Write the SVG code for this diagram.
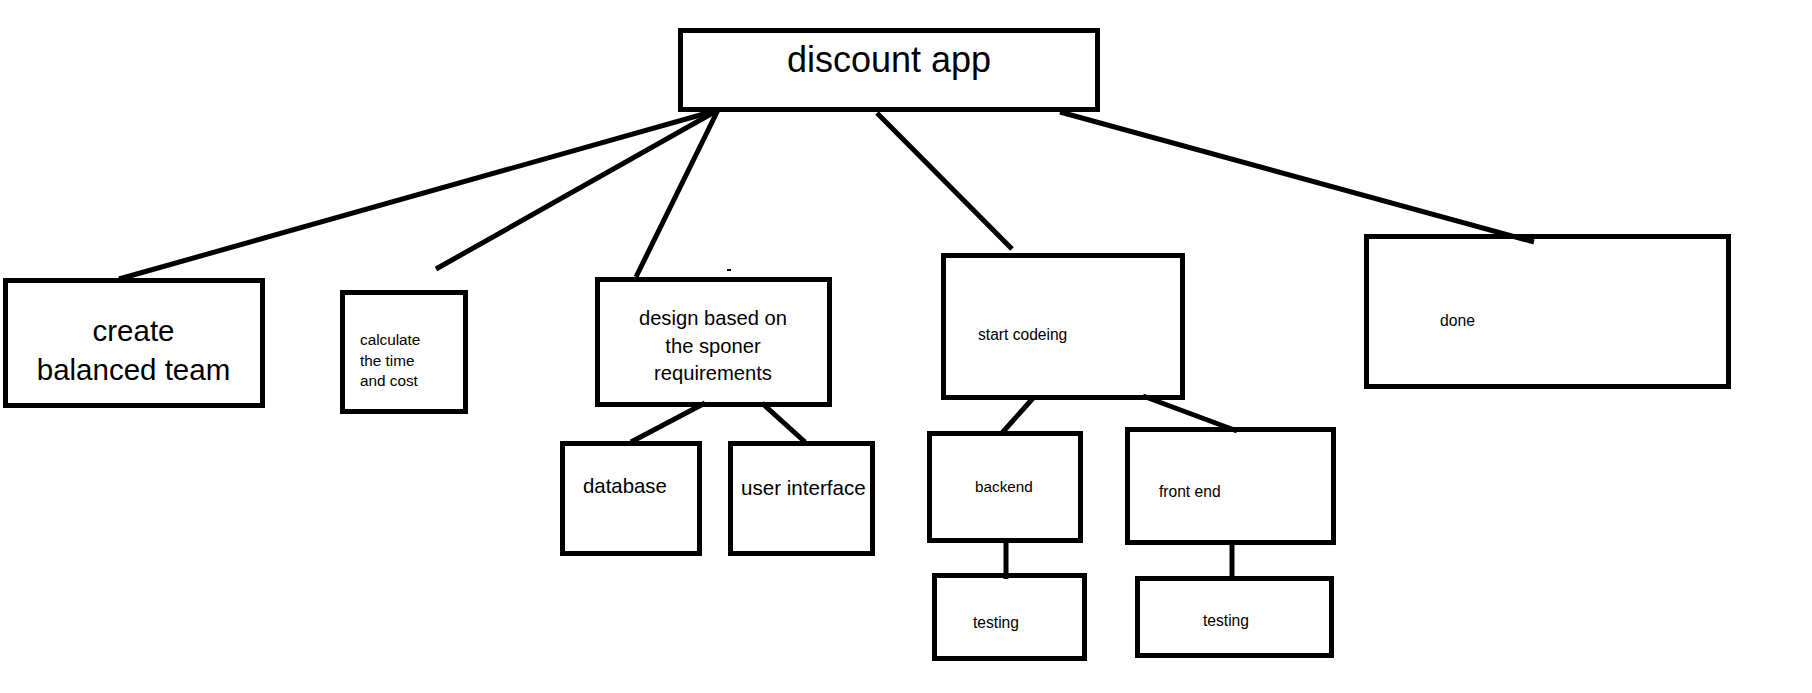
<svg xmlns="http://www.w3.org/2000/svg" width="1812" height="693" viewBox="0 0 1812 693">
<style>
.box{fill:#fff;stroke:#000;stroke-width:5}
.ln{stroke:#000;stroke-width:5;stroke-linecap:butt;fill:none}
text{font-family:"Liberation Sans",Arial,sans-serif;fill:#000}
.c{text-anchor:middle}
</style>
<rect width="1812" height="693" fill="#fff"/>
<g id="discount-app">
<rect class="box" x="680.5" y="30.5" width="417" height="79"/>
<text class="c" x="889" y="72" font-size="36">discount app</text>
</g>
<g id="create-balanced-team">
<rect class="box" x="5.5" y="280.5" width="257" height="125"/>
<text class="c" x="133.5" y="341" font-size="29.5">create</text>
<text class="c" x="133.5" y="380" font-size="29.5">balanced team</text>
</g>
<g id="calculate">
<rect class="box" x="342.5" y="292.5" width="123" height="119"/>
<text x="360" y="345" font-size="15.3">calculate</text>
<text x="360" y="366" font-size="15.3">the time</text>
<text x="360" y="386" font-size="15.3">and cost</text>
</g>
<g id="design">
<rect class="box" x="597.5" y="279.5" width="232" height="125"/>
<text class="c" x="713" y="325" font-size="20.2">design based on</text>
<text class="c" x="713" y="353" font-size="20.2">the sponer</text>
<text class="c" x="713" y="380" font-size="20.2">requirements</text>
</g>
<g id="database">
<rect class="box" x="562.5" y="443.5" width="137" height="110"/>
<text x="583" y="493" font-size="20.4">database</text>
</g>
<g id="user-interface">
<rect class="box" x="730.5" y="443.5" width="142" height="110"/>
<text x="741" y="495" font-size="20.6">user interface</text>
</g>
<g id="start-codeing">
<rect class="box" x="943.5" y="255.5" width="239" height="142"/>
<text x="978" y="340" font-size="15.6">start codeing</text>
</g>
<g id="backend">
<rect class="box" x="929.5" y="433.5" width="151" height="107"/>
<text x="975" y="492" font-size="15.3">backend</text>
</g>
<g id="front-end">
<rect class="box" x="1127.5" y="429.5" width="206" height="113"/>
<text x="1159" y="497" font-size="15.6">front end</text>
</g>
<g id="testing-backend">
<rect class="box" x="934.5" y="575.5" width="150" height="83"/>
<text x="973" y="628" font-size="15.6">testing</text>
</g>
<g id="testing-frontend">
<rect class="box" x="1137.5" y="578.5" width="194" height="77"/>
<text x="1203" y="626" font-size="15.6">testing</text>
</g>
<g id="done">
<rect class="box" x="1366.5" y="236.5" width="362" height="150"/>
<text x="1440" y="326" font-size="15.7">done</text>
</g>
<g id="connectors">
<line class="ln" x1="718" y1="110" x2="119" y2="279"/>
<line class="ln" x1="718" y1="110" x2="436" y2="269"/>
<line class="ln" x1="718" y1="110" x2="636" y2="277"/>
<line class="ln" x1="877" y1="113" x2="1012" y2="249"/>
<line class="ln" x1="1060" y1="112" x2="1534" y2="242"/>
<line class="ln" x1="727" y1="270" x2="731" y2="270" style="stroke-width:2"/>
<line class="ln" x1="705" y1="403" x2="631" y2="442"/>
<line class="ln" x1="762" y1="403" x2="805" y2="442"/>
<line class="ln" x1="1034" y1="397" x2="1002" y2="433"/>
<line class="ln" x1="1143" y1="396" x2="1237" y2="431"/>
<line class="ln" x1="1006" y1="542" x2="1006" y2="579"/>
<line class="ln" x1="1232" y1="540" x2="1232" y2="577"/>
</g>
</svg>
